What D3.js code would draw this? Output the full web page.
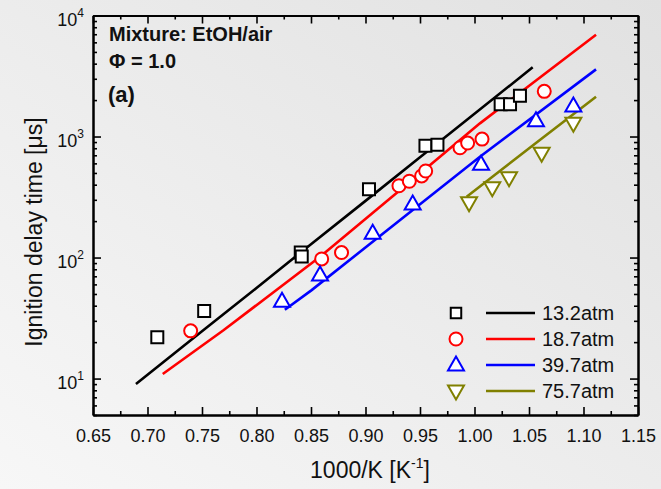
<!DOCTYPE html>
<html>
<head>
<meta charset="utf-8">
<script src="https://cdn.jsdelivr.net/npm/d3@7"></script>
<style>
  html, body { margin: 0; padding: 0; }
  body { width: 661px; height: 489px; overflow: hidden; }
  svg { display: block; font-family: "Liberation Sans", Arial, sans-serif; }
</style>
</head>
<body>
<svg id="chart" width="661" height="489"></svg>
<script>
// Ignition delay times of ethanol/air (phi = 1.0) at four pressures:
// shock-tube measurements (symbols) and model predictions (lines).
const seriesNames = ["13.2atm", "18.7atm", "39.7atm", "75.7atm"];
const seriesColors = ["#000000", "#ff0000", "#0000ff", "#808000"];
const seriesSymbols = ["square", "circle", "triangleUp", "triangleDown"];

// measured points: [1000/T (1/K), ignition delay (us)]
const exp13 = [[0.709, 21.9], [0.752, 36.1], [0.8406, 110], [0.8415, 102],
               [0.9032, 366], [0.955, 839], [0.966, 855], [1.024, 1845],
               [1.0326, 1850], [1.0417, 2173]];
const exp18 = [[0.7396, 24.8], [0.8598, 97.3], [0.878, 110], [0.9307, 392],
               [0.9402, 427], [0.9515, 472], [0.9552, 519], [0.9867, 807],
               [0.9937, 883], [1.0069, 952], [1.064, 2362]];
const exp39 = [[0.8234, 43.5], [0.8583, 71.6], [0.9066, 158.5], [0.9433, 277],
               [1.006, 589], [1.0564, 1352], [1.0907, 1786]];
const exp75 = [[0.995, 284], [1.0163, 378], [1.0317, 457], [1.0616, 726],
               [1.0907, 1285]];

// model curves
const model13 = [[0.6894, 9.0], [0.75, 24.6], [0.80, 56], [0.85, 129],
                 [0.90, 294], [0.95, 674], [1.00, 1542], [1.0534, 3730]];
const model18 = [[0.714, 10.9], [0.77, 25.2], [0.858, 101], [0.95, 495],
                 [1.005, 1285], [1.1115, 6930]];
const model39 = [[0.826, 37], [0.8506, 53.8], [1.005, 681], [1.1115, 3590]];
const model75 = [[0.9928, 318], [1.054, 851], [1.1115, 2133]];

const xTicks = [0.65, 0.70, 0.75, 0.80, 0.85, 0.90, 0.95, 1.00, 1.05, 1.10, 1.15];
const xMinorTicks = [0.675, 0.725, 0.775, 0.825, 0.875, 0.925, 0.975, 1.025, 1.075, 1.125];
const yTicks = [10, 100, 1000, 10000];
const yTickExponents = ["1", "2", "3", "4"];

const expData = [exp13, exp18, exp39, exp75];
const modelData = [model13, model18, model39, model75];

const svg = d3.select("#chart");
const W = 661, H = 489;
const plot = { left: 93, right: 638, top: 15.5, bottom: 415 };

// background
const defs = svg.append("defs");
const bg = defs.append("linearGradient").attr("id", "bg")
  .attr("x1", "0").attr("y1", "1").attr("x2", "1").attr("y2", "0");
bg.append("stop").attr("offset", "0").attr("stop-color", "#f7f7f7");
bg.append("stop").attr("offset", "1").attr("stop-color", "#e1e1e1");
svg.append("rect").attr("width", W).attr("height", H).attr("fill", "url(#bg)");

const x = d3.scaleLinear().domain([0.65, 1.15]).range([plot.left, plot.right]);
const y = d3.scaleLog().domain([5, 10000]).range([plot.bottom, plot.top]);

// minor log ticks
const yMinor = [];
[1, 10, 100, 1000].forEach(d => { for (let k = 2; k <= 9; k++) { const v = d * k; if (v >= 5) yMinor.push(v); } });

const axisStyle = g => {
  g.selectAll(".domain").attr("stroke", "#000").attr("stroke-width", 2);
  g.selectAll(".tick line").attr("stroke", "#000").attr("stroke-width", 1.6);
};

// bottom axis
const gB = svg.append("g").attr("transform", `translate(0,${plot.bottom})`)
  .call(d3.axisBottom(x).tickValues(xTicks).tickSizeInner(-8).tickSizeOuter(0)
    .tickPadding(14).tickFormat(d3.format(".2f")))
  .call(axisStyle);
gB.selectAll(".tick text").attr("font-size", 18).attr("fill", "#111")
  .attr("font-family", "Liberation Sans, Arial, sans-serif");
svg.append("g").attr("transform", `translate(0,${plot.bottom})`)
  .call(d3.axisBottom(x).tickValues(xMinorTicks).tickSizeInner(-4).tickSizeOuter(0).tickFormat(""))
  .call(axisStyle);

// top axis
svg.append("g").attr("transform", `translate(0,${plot.top})`)
  .call(d3.axisTop(x).tickValues(xTicks).tickSizeInner(-8).tickSizeOuter(0).tickFormat(""))
  .call(axisStyle);
svg.append("g").attr("transform", `translate(0,${plot.top})`)
  .call(d3.axisTop(x).tickValues(xMinorTicks).tickSizeInner(-4).tickSizeOuter(0).tickFormat(""))
  .call(axisStyle);

// left axis
const gL = svg.append("g").attr("transform", `translate(${plot.left},0)`)
  .call(d3.axisLeft(y).tickValues(yTicks).tickSizeInner(-8).tickSizeOuter(0).tickPadding(9).tickFormat(""))
  .call(axisStyle);
gL.selectAll(".tick text").each(function(d, i) {
  const t = d3.select(this).attr("font-size", 18).attr("fill", "#111")
    .attr("font-family", "Liberation Sans, Arial, sans-serif").attr("dy", "0.55em");
  t.append("tspan").text("10");
  t.append("tspan").attr("font-size", 12).attr("dy", "-0.75em").text(yTickExponents[yTicks.indexOf(d)]);
});
svg.append("g").attr("transform", `translate(${plot.left},0)`)
  .call(d3.axisLeft(y).tickValues(yMinor).tickSizeInner(-4).tickSizeOuter(0).tickFormat(""))
  .call(axisStyle);

// right axis
svg.append("g").attr("transform", `translate(${plot.right},0)`)
  .call(d3.axisRight(y).tickValues(yTicks).tickSizeInner(-8).tickSizeOuter(0).tickFormat(""))
  .call(axisStyle);
svg.append("g").attr("transform", `translate(${plot.right},0)`)
  .call(d3.axisRight(y).tickValues(yMinor).tickSizeInner(-4).tickSizeOuter(0).tickFormat(""))
  .call(axisStyle);

// axis titles
svg.append("text").attr("x", 370).attr("y", 478).attr("text-anchor", "middle")
  .attr("font-size", 23).attr("fill", "#111")
  .call(t => {
    t.append("tspan").text("1000/K [K");
    t.append("tspan").attr("font-size", 14).attr("dy", "-0.75em").text("-1");
    t.append("tspan").attr("dy", "0.47em").text("]");
  });
svg.append("text").attr("transform", "translate(42,232) rotate(-90)")
  .attr("text-anchor", "middle").attr("font-size", 23).attr("fill", "#111")
  .text("Ignition delay time [μs]");

// annotations
svg.append("text").attr("x", 109).attr("y", 41).attr("font-size", 20).attr("font-weight", "bold")
  .attr("fill", "#111").text("Mixture: EtOH/air");
svg.append("text").attr("x", 109).attr("y", 68).attr("font-size", 20).attr("font-weight", "bold")
  .attr("fill", "#111").text("Φ = 1.0");
svg.append("text").attr("x", 108).attr("y", 102).attr("font-size", 22).attr("font-weight", "bold")
  .attr("fill", "#111").text("(a)");

// symbols
const symbolPath = {
  square: d3.symbol().type(d3.symbolSquare).size(144)(),
  circle: d3.symbol().type(d3.symbolCircle).size(Math.PI * 6.5 * 6.5)(),
  triangleUp: "M0,-8.5L8,5.5L-8,5.5Z",
  triangleDown: "M0,8.5L8,-5.5L-8,-5.5Z"
};

// model lines
const line = d3.line().x(d => x(d[0])).y(d => y(d[1]));
modelData.forEach((data, i) => {
  svg.append("path").datum(data).attr("d", line).attr("fill", "none")
    .attr("stroke", seriesColors[i]).attr("stroke-width", 2.6);
});

// experimental points
expData.forEach((data, i) => {
  svg.append("g").selectAll("path").data(data).join("path")
    .attr("transform", d => `translate(${x(d[0])},${y(d[1])})`)
    .attr("d", symbolPath[seriesSymbols[i]])
    .attr("fill", "#fff").attr("stroke", seriesColors[i]).attr("stroke-width", 2);
});

// legend
const legendY = [313, 339, 365, 391];
const lg = svg.append("g");
seriesNames.forEach((name, i) => {
  const row = lg.append("g").attr("transform", `translate(0,${legendY[i]})`);
  row.append("path").attr("transform", "translate(456,0)")
    .attr("d", i === 0 ? d3.symbol().type(d3.symbolSquare).size(110)() : symbolPath[seriesSymbols[i]])
    .attr("fill", "#fff").attr("stroke", seriesColors[i]).attr("stroke-width", 2);
  row.append("line").attr("x1", 486).attr("x2", 535).attr("y1", 0).attr("y2", 0)
    .attr("stroke", seriesColors[i]).attr("stroke-width", 2.6);
  row.append("text").attr("x", 542).attr("y", 7).attr("font-size", 20).attr("fill", "#111")
    .text(name);
});
</script>
</body>
</html>
